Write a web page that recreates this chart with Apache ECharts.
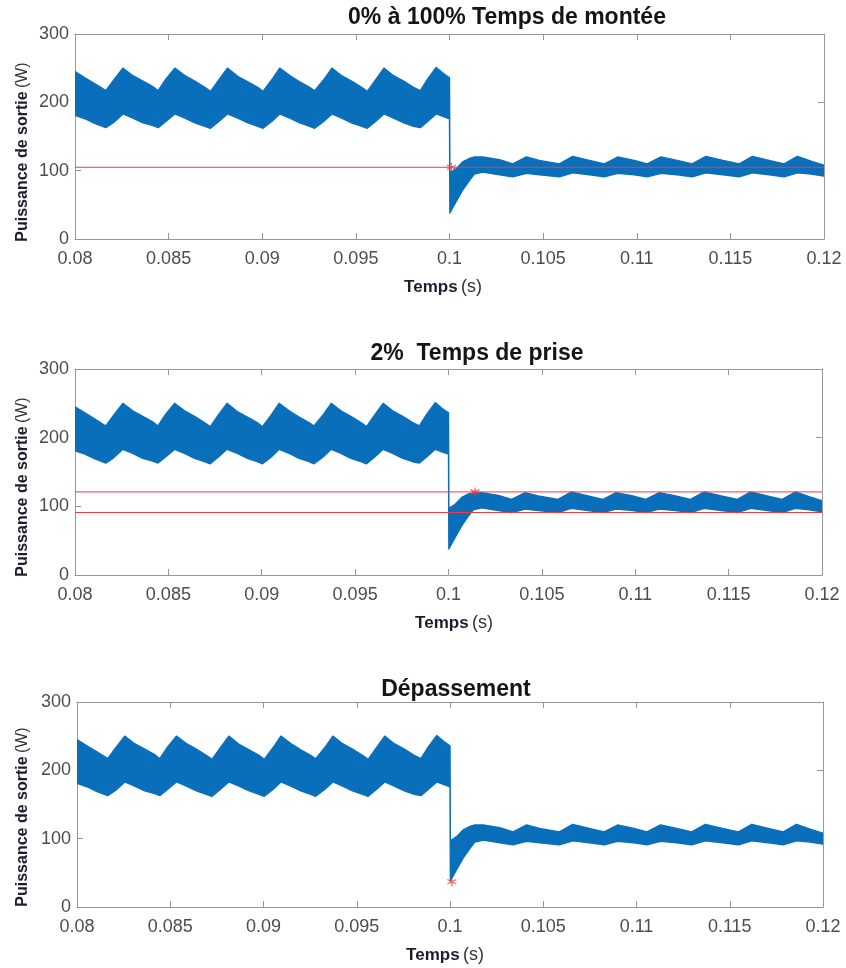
<!DOCTYPE html>
<html>
<head>
<meta charset="utf-8">
<script src="https://cdn.jsdelivr.net/npm/echarts@6/dist/echarts.min.js"></script>
<style>
html,body{margin:0;padding:0;background:#fff;}
#c{width:846px;height:968px;}
</style>
</head>
<body>
<div id="c"></div>
<script>
// ---- data ----
const timeEnv = [
  0.08000,0.08053,0.08107,0.08165,0.08208,0.08256,0.08309,0.08363,0.08416,
  0.08444,0.08485,0.08533,0.08587,0.08640,0.08693,
  0.08724,0.08768,0.08814,0.08869,0.08923,0.08976,
  0.09004,0.09051,0.09093,0.09147,0.09200,0.09253,
  0.09280,0.09328,0.09372,0.09424,0.09477,0.09531,
  0.09561,0.09605,0.09650,0.09701,0.09755,0.09808,
  0.09844,0.09883,0.09929,0.09968,0.10000,
  0.10002,0.10036,0.10071,0.10107,0.10133,0.10178,0.10267,
  0.10338,0.10411,0.10480,0.10587,0.10658,0.10747,0.10827,0.10898,0.10987,
  0.11056,0.11129,0.11216,0.11296,0.11369,0.11461,0.11547,0.11618,0.11707,
  0.11787,0.11858,0.11931,0.12000
];
const upperEnv = [
  245,236,227,217,233,250,239,231,223,
  217,234,250,239,231,222,
  216,233,250,238,230,222,
  216,233,250,239,230,222,
  217,233,250,239,231,222,
  216,233,250,239,231,222,
  217,234,251,242,236,
  97,103,113,118,120,120,116,
  110,120,115,110,121,115,110,120,115,
  110,120,115,110,121,115,110,121,115,
  110,121,114,108
];
const lowerEnv = [
  181,176,169,163,171,183,177,170,166,
  163,172,183,177,170,165,
  162,172,183,177,170,165,
  162,172,183,177,170,165,
  162,172,183,177,170,165,
  162,172,183,177,170,165,
  163,172,183,179,176,
  38,55,72,86,95,98,94,
  91,96,94,91,97,94,91,96,94,
  91,96,94,91,97,94,91,97,94,
  91,97,95,92
];
const xTickLabels = ['0.08','0.085','0.09','0.095','0.1','0.105','0.11','0.115','0.12'];
const yTickLabels = ['0','100','200','300'];
const titles = ['0% à 100% Temps de montée', '2%  Temps de prise', 'Dépassement'];
const refLines = [[105], [121, 91], []];
const starPoints = [[0.1001, 105], [0.10142, 121], [0.1001, 37]];

// ---- layout ----
const grids = [
  {left: 75, top: 34, width: 749, height: 205},
  {left: 75, top: 369, width: 747, height: 206},
  {left: 77, top: 702, width: 746, height: 205}
];
const titlePos = [[507, 18], [477, 354], [456, 690]];
const xLabelPos = [[443, 287], [454, 623], [445, 955]];
const yLabelPos = [[23, 152], [23, 487], [23, 817]];

const BLUE = '#0a6fbb';
const RED = '#f03c3c';
const AX = '#979797';
const TICKC = '#4d4d4d';

const bandRows = timeEnv.map((t, i) => [t, upperEnv[i], lowerEnv[i]]);

function renderBand(params, api) {
  if (params.dataIndex !== 0) return null;
  const pts = [];
  for (let i = 0; i < timeEnv.length; i++) pts.push(api.coord([timeEnv[i], upperEnv[i]]));
  for (let i = timeEnv.length - 1; i >= 0; i--) pts.push(api.coord([timeEnv[i], lowerEnv[i]]));
  return {
    type: 'polygon',
    shape: {points: pts},
    style: {fill: BLUE, stroke: BLUE, lineWidth: 1.4, lineJoin: 'round'}
  };
}

const xAxes = [], yAxes = [], series = [], graphics = [];
grids.forEach((g, i) => {
  const common = {
    gridIndex: i, type: 'value', splitLine: {show: false},
    axisLine: {show: true, onZero: false, lineStyle: {color: AX, width: 1}},
    axisTick: {show: true, inside: true, length: 6, lineStyle: {color: AX}}
  };
  xAxes.push(Object.assign({}, common, {
    position: 'bottom', min: 0.08, max: 0.12, interval: 0.005,
    axisLabel: {show: true, fontSize: 18, color: TICKC, margin: 11, fontFamily: 'Liberation Sans, Arial, sans-serif',
      showMinLabel: true, showMaxLabel: true,
      formatter: v => xTickLabels[Math.round((v - 0.08) / 0.005)]}
  }));
  xAxes.push(Object.assign({}, common, {
    position: 'top', min: 0.08, max: 0.12, interval: 0.005, axisLabel: {show: false}
  }));
  yAxes.push(Object.assign({}, common, {
    position: 'left', min: 0, max: 300, interval: 100,
    axisLabel: {show: true, fontSize: 18, color: TICKC, margin: 6, fontFamily: 'Liberation Sans, Arial, sans-serif',
      showMinLabel: true, showMaxLabel: true,
      formatter: v => yTickLabels[Math.round(v / 100)]}
  }));
  yAxes.push(Object.assign({}, common, {
    position: 'right', min: 0, max: 300, interval: 100, axisLabel: {show: false}
  }));
  const xi = i * 2, yi = i * 2;
  series.push({
    type: 'custom', xAxisIndex: xi, yAxisIndex: yi,
    data: bandRows, encode: {x: 0, y: [1, 2]},
    renderItem: renderBand, clip: true, silent: true, z: 2
  });
  refLines[i].forEach(v => {
    series.push({
      type: 'line', xAxisIndex: xi, yAxisIndex: yi,
      data: [[0.08, v], [0.12, v]], symbol: 'none',
      lineStyle: {width: 1, color: RED}, silent: true, z: 3
    });
  });
  series.push({
    type: 'scatter', xAxisIndex: xi, yAxisIndex: yi,
    data: [starPoints[i]], symbol: 'path://M5,0L5,10M0.67,2.5L9.33,7.5M0.67,7.5L9.33,2.5',
    symbolSize: 9, itemStyle: {color: 'none', borderColor: RED, borderWidth: 1.3}, silent: true, z: 4
  });

  graphics.push({
    type: 'text', x: titlePos[i][0], y: titlePos[i][1],
    style: {text: titles[i], font: 'bold 23px "Liberation Sans", Arial, sans-serif', fill: '#151515',
      align: 'center', verticalAlign: 'middle'}
  });
  graphics.push({
    type: 'text', x: xLabelPos[i][0], y: xLabelPos[i][1],
    style: {text: '{b|Temps} {n|(s)}', align: 'center', verticalAlign: 'middle',
      rich: {b: {font: 'bold 17px "Liberation Sans", Arial, sans-serif', fill: '#1d1d2e'},
             n: {font: '18px "Liberation Sans", Arial, sans-serif', fill: '#333'}}}
  });
  graphics.push({
    type: 'text', x: yLabelPos[i][0], y: yLabelPos[i][1], rotation: Math.PI / 2,
    style: {text: '{b|Puissance de sortie} {n|(W)}', align: 'center', verticalAlign: 'middle',
      rich: {b: {font: 'bold 16px "Liberation Sans", Arial, sans-serif', fill: '#1d1d2e'},
             n: {font: '16px "Liberation Sans", Arial, sans-serif', fill: '#333'}}}
  });
});

const chart = echarts.init(document.getElementById('c'), null, {renderer: 'canvas'});
chart.setOption({
  animation: false,
  backgroundColor: '#fff',
  grid: grids.map(g => Object.assign({containLabel: false}, g)),
  xAxis: xAxes,
  yAxis: yAxes,
  series: series,
  graphic: graphics
});
</script>
</body>
</html>
